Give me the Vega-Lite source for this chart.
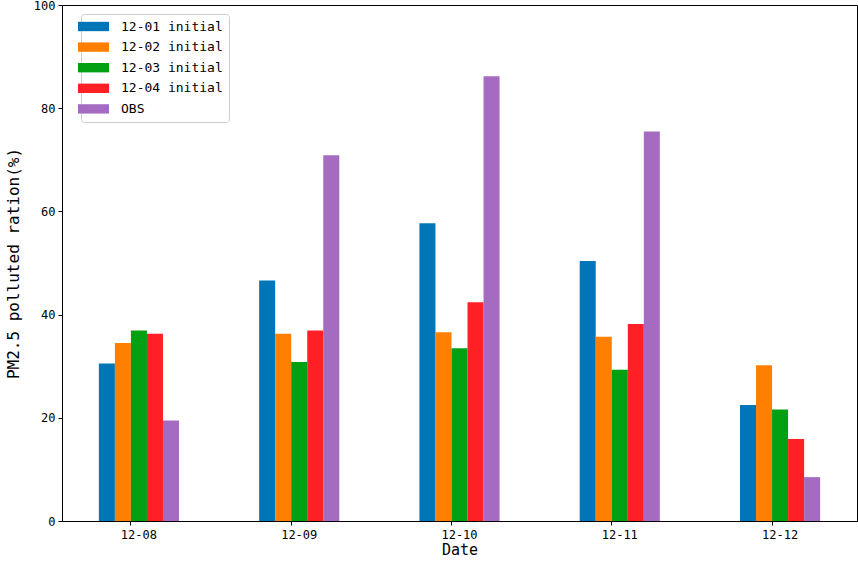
{
  "$schema": "https://vega.github.io/schema/vega-lite/v6.json",
  "width": 795,
  "height": 516,
  "autosize": {"type": "none"},
  "padding": {"left": 62, "top": 5, "right": 1, "bottom": 45},
  "background": "white",
  "data": {
    "values": [
      {"date": "12-08", "run": "12-01 initial", "value": 30.5},
      {"date": "12-08", "run": "12-02 initial", "value": 34.5},
      {"date": "12-08", "run": "12-03 initial", "value": 36.9},
      {"date": "12-08", "run": "12-04 initial", "value": 36.3},
      {"date": "12-08", "run": "OBS", "value": 19.5},
      {"date": "12-09", "run": "12-01 initial", "value": 46.6},
      {"date": "12-09", "run": "12-02 initial", "value": 36.3},
      {"date": "12-09", "run": "12-03 initial", "value": 30.8},
      {"date": "12-09", "run": "12-04 initial", "value": 36.9},
      {"date": "12-09", "run": "OBS", "value": 70.9},
      {"date": "12-10", "run": "12-01 initial", "value": 57.7},
      {"date": "12-10", "run": "12-02 initial", "value": 36.6},
      {"date": "12-10", "run": "12-03 initial", "value": 33.5},
      {"date": "12-10", "run": "12-04 initial", "value": 42.4},
      {"date": "12-10", "run": "OBS", "value": 86.2},
      {"date": "12-11", "run": "12-01 initial", "value": 50.4},
      {"date": "12-11", "run": "12-02 initial", "value": 35.7},
      {"date": "12-11", "run": "12-03 initial", "value": 29.3},
      {"date": "12-11", "run": "12-04 initial", "value": 38.2},
      {"date": "12-11", "run": "OBS", "value": 75.5},
      {"date": "12-12", "run": "12-01 initial", "value": 22.5},
      {"date": "12-12", "run": "12-02 initial", "value": 30.2},
      {"date": "12-12", "run": "12-03 initial", "value": 21.6},
      {"date": "12-12", "run": "12-04 initial", "value": 15.9},
      {"date": "12-12", "run": "OBS", "value": 8.5}
    ]
  },
  "mark": {"type": "bar"},
  "encoding": {
    "x": {
      "field": "date",
      "type": "nominal",
      "scale": {"paddingInner": 0.5, "paddingOuter": 0.23},
      "axis": {"title": "Date", "labelAngle": 0, "bandPosition": 0.4, "labelPadding": 4, "titlePadding": 2, "titleFontSize": 15}
    },
    "xOffset": {
      "field": "run",
      "type": "nominal",
      "sort": ["12-01 initial", "12-02 initial", "12-03 initial", "12-04 initial", "OBS"],
      "scale": {"paddingInner": 0, "paddingOuter": 0}
    },
    "y": {
      "field": "value",
      "type": "quantitative",
      "scale": {"domain": [0, 100], "nice": false},
      "axis": {"title": "PM2.5 polluted ration(%)", "values": [0, 20, 40, 60, 80, 100], "grid": false, "labelPadding": 3, "titlePadding": 12, "titleFontSize": 16}
    },
    "color": {
      "field": "run",
      "type": "nominal",
      "scale": {
        "domain": ["12-01 initial", "12-02 initial", "12-03 initial", "12-04 initial", "OBS"],
        "range": ["#0075B8", "#FF8000", "#00A012", "#FF2026", "#A46BC1"]
      },
      "legend": {
        "title": null,
        "orient": "none",
        "legendX": 19,
        "legendY": 9,
        "padding": 6,
        "strokeColor": "#cccccc",
        "fillColor": "rgba(255,255,255,0.8)",
        "cornerRadius": 3,
        "symbolType": "M-2.58,-0.78H2.58V0.78H-2.58Z",
        "symbolSize": 144,
        "symbolStrokeWidth": 0,
        "symbolOpacity": 1,
        "labelFontSize": 13,
        "labelOffset": 21,
        "rowPadding": 6.6
      }
    }
  },
  "config": {
    "view": {"stroke": "black", "strokeWidth": 1},
    "font": "DejaVu Sans Mono",
    "axis": {
      "labelFont": "DejaVu Sans Mono",
      "titleFont": "DejaVu Sans Mono",
      "labelFontSize": 12,
      "labelColor": "black",
      "titleColor": "black",
      "titleFontWeight": "normal",
      "domainColor": "black",
      "tickColor": "black",
      "tickSize": 4
    },
    "legend": {"labelFont": "DejaVu Sans Mono", "labelColor": "black"}
  }
}
